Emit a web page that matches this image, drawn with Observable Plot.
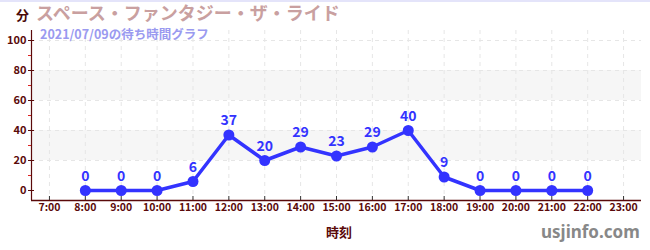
<!DOCTYPE html>
<html><head><meta charset="utf-8">
<script src="https://cdn.jsdelivr.net/npm/d3@7"></script>
<script src="https://cdn.jsdelivr.net/npm/@observablehq/plot@0.6"></script>
<style>
body{margin:0;background:#fff;}
#wrap{position:relative;width:650px;height:250px;overflow:hidden;font-family:"Noto Sans CJK JP","Noto Sans",sans-serif;}
#topline{position:absolute;left:0;top:0;width:650px;height:2px;background:#e4e4fa;}
.t{position:absolute;white-space:nowrap;font-weight:bold;line-height:1;}
</style></head><body>
<div id="wrap">
<div id="topline"></div>
<div id="chart"></div>
<div class="t" style="left:16px;top:8px;font-size:13px;color:#4a0a0a;">分</div>
<div class="t" style="left:36px;top:3px;font-size:18px;line-height:18px;color:#c9a0a0;">スペース・ファンタジー・ザ・ライド</div>
<div class="t" style="left:40px;top:27px;font-size:12.5px;line-height:13px;color:#9a9af0;">2021/07/09の待ち時間グラフ</div>
<div class="t" style="left:326px;top:225px;font-size:13px;color:#5a0a0a;">時刻</div>
<div class="t" style="left:541px;top:223px;font-size:17px;color:#888;font-family:'Noto Sans',sans-serif;">usjinfo.com</div>
</div>
<script>
const hours = [8,9,10,11,12,13,14,15,16,17,18,19,20,21,22];
const waits = [0,0,0,6,37,20,29,23,29,40,9,0,0,0,0];
const xTicks = [7,8,9,10,11,12,13,14,15,16,17,18,19,20,21,22,23];
const yTicks = [0,20,40,60,80,100];
const yMinor = [10,30,50,70,90];
const bandLo = [20,60];
const bandHi = [40,80];
const xDomain = [6.5,23.5];
const yDomain = [-6.67,106.67];

const data = hours.map((h,i)=>({h, w: waits[i]}));
const bands = bandLo.map((lo,i)=>({lo, hi: bandHi[i]}));

const axisColor = "#5a0a0a";
const chart = Plot.plot({
  width: 650, height: 250,
  marginLeft: 31, marginRight: 9, marginTop: 30, marginBottom: 50,
  style: {fontFamily: "'Noto Sans CJK JP', 'Noto Sans', sans-serif", background: "transparent"},
  x: {domain: xDomain},
  y: {domain: yDomain},
  marks: [
    Plot.rect(bands, {x1: () => xDomain[0], x2: () => xDomain[1], y1: "lo", y2: "hi", fill: "#f6f6f6"}),
    Plot.gridX(xTicks, {stroke: "#e6e6e6", strokeOpacity: 1, strokeDasharray: "4,4"}),
    Plot.gridY(yTicks.filter(d=>d>0), {stroke: "#e6e6e6", strokeOpacity: 1, strokeDasharray: "4,4"}),
    Plot.axisX({ticks: xTicks, tickSize: -4, tickPadding: 7, tickFormat: d => d + ":00", stroke: "#333", color: axisColor, fontSize: 10.5, fontWeight: "bold", label: null}),
    Plot.axisY({ticks: yTicks, tickSize: 3, tickPadding: 2, stroke: axisColor, color: axisColor, fontSize: 11, fontWeight: "bold", label: null}),
    Plot.axisY({ticks: yTicks, tickSize: -3, fill: "none", stroke: axisColor, label: null}),
    Plot.axisY({ticks: yMinor, tickSize: 3, fill: "none", stroke: "#dd2222", label: null}),
    Plot.ruleX([xDomain[0]], {stroke: axisColor, strokeWidth: 1.2}),
    Plot.ruleY([yDomain[0]], {stroke: axisColor, strokeWidth: 1.5}),
    Plot.line(data, {x: "h", y: "w", stroke: "#3333ff", strokeWidth: 3.5}),
    Plot.dot(data, {x: "h", y: "w", r: 5.5, fill: "#3333ff", stroke: "none"}),
    Plot.text(data, {x: "h", y: "w", text: d => String(d.w), dy: -14, fill: "#3333ff", fontSize: 14, fontWeight: "bold"})
  ]
});
document.getElementById("chart").appendChild(chart);
</script>
</body></html>
